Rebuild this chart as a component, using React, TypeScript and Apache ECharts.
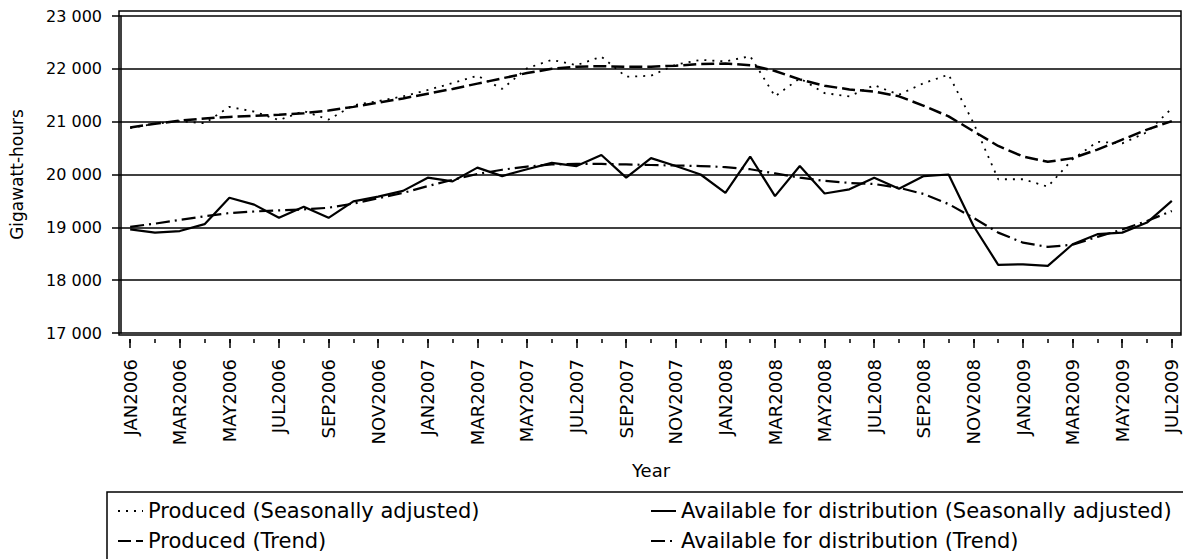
import React, { useEffect, useRef } from "react";
import * as echarts from "echarts";

const months: string[] = [
  "JAN2006","FEB2006","MAR2006","APR2006","MAY2006","JUN2006","JUL2006","AUG2006","SEP2006","OCT2006","NOV2006","DEC2006",
  "JAN2007","FEB2007","MAR2007","APR2007","MAY2007","JUN2007","JUL2007","AUG2007","SEP2007","OCT2007","NOV2007","DEC2007",
  "JAN2008","FEB2008","MAR2008","APR2008","MAY2008","JUN2008","JUL2008","AUG2008","SEP2008","OCT2008","NOV2008","DEC2008",
  "JAN2009","FEB2009","MAR2009","APR2009","MAY2009","JUN2009","JUL2009",
];

const producedSA: number[] = [
  20880, 20960, 21010, 20970, 21280, 21190, 21030, 21200, 21040, 21310, 21390, 21480,
  21600, 21730, 21870, 21620, 22010, 22170, 22070, 22230, 21850, 21870, 22080, 22170,
  22140, 22240, 21480, 21820, 21540, 21480, 21690, 21510, 21730, 21890, 20980, 19910,
  19910, 19770, 20290, 20620, 20590, 20800, 21250,
];

const producedTrend: number[] = [
  20890, 20960, 21020, 21060, 21090, 21110, 21130, 21160, 21210, 21280, 21360, 21440,
  21530, 21620, 21720, 21820, 21920, 22000, 22040, 22050, 22040, 22040, 22060, 22090,
  22100, 22070, 21960, 21800, 21680, 21610, 21570, 21480, 21300, 21100, 20820, 20540,
  20340, 20240, 20310, 20470, 20660, 20850, 21010,
];

const availableSA: number[] = [
  18960, 18900, 18930, 19060, 19560, 19430, 19180, 19390, 19180, 19490, 19580, 19690,
  19940, 19870, 20130, 19970, 20100, 20220, 20160, 20370, 19940, 20310, 20160, 20000,
  19650, 20340, 19590, 20160, 19640, 19720, 19940, 19730, 19970, 20000, 19030, 18290,
  18300, 18270, 18680, 18870, 18900, 19090, 19500,
];

const availableTrend: number[] = [
  19010, 19070, 19140, 19210, 19270, 19300, 19320, 19340, 19370, 19450, 19550, 19650,
  19780, 19900, 20010, 20090, 20150, 20190, 20200, 20200, 20190, 20180, 20170, 20160,
  20140, 20100, 20020, 19940, 19880, 19840, 19820, 19750, 19630, 19440, 19180, 18900,
  18710, 18630, 18670, 18820, 18960, 19120, 19310,
];

const seriesNames: string[] = [
  "Produced (Seasonally adjusted)",
  "Produced (Trend)",
  "Available for distribution (Seasonally adjusted)",
  "Available for distribution (Trend)",
];

const FONT = "DejaVu Sans";

function pairs(values: number[]): [number, number][] {
  return values.map((v, i) => [i, v]);
}

export default function App() {
  const ref = useRef<HTMLDivElement | null>(null);

  useEffect(() => {
    if (!ref.current) return;
    const chart = echarts.init(ref.current, undefined, { renderer: "svg" });
    const allIdx = months.map((_, i) => i);
    const evenIdx = allIdx.filter((i) => i % 2 === 0);
    const xMin = -0.37;
    const xMax = months.length - 1 + 0.37;

    const legendCommon = {
      top: 500,
      orient: "vertical",
      padding: 0,
      itemGap: 8,
      itemWidth: 25,
      itemHeight: 14,
      itemStyle: { color: "transparent", borderColor: "transparent", borderWidth: 0 },
      textStyle: { color: "#000", fontFamily: FONT, fontSize: 21, lineHeight: 22 },
    };

    chart.setOption({
      animation: false,
      backgroundColor: "#ffffff",
      grid: { left: 119, right: 2, top: 16, bottom: 226, containLabel: false },
      xAxis: [
        {
          type: "value",
          min: xMin,
          max: xMax,
          position: "bottom",
          offset: 6,
          axisLine: { show: false, onZero: false },
          splitLine: { show: false },
          axisTick: {
            show: true,
            customValues: evenIdx,
            length: 9,
            lineStyle: { color: "#000", width: 1.5 },
          },
          axisLabel: {
            show: true,
            customValues: evenIdx,
            rotate: 90,
            margin: 20,
            color: "#000",
            fontFamily: FONT,
            fontSize: 18,
            formatter: (v: number) => months[Math.round(v)] ?? "",
          },
          name: "Year",
          nameLocation: "middle",
          nameGap: 122,
          nameTextStyle: { color: "#000", fontFamily: FONT, fontSize: 18 },
        },
        {
          type: "value",
          min: xMin,
          max: xMax,
          position: "bottom",
          offset: 6,
          axisLine: { show: false, onZero: false },
          splitLine: { show: false },
          axisTick: {
            show: true,
            customValues: allIdx,
            length: 4,
            lineStyle: { color: "#000", width: 1.5 },
          },
          axisLabel: { show: false },
        },
      ],
      yAxis: {
        type: "value",
        min: 17000,
        max: 23000,
        interval: 1000,
        axisLine: { show: true, onZero: false, lineStyle: { color: "#000", width: 1.5 } },
        axisTick: { show: true, length: 9, lineStyle: { color: "#000", width: 1.5 } },
        splitLine: { show: true, lineStyle: { color: "#000", width: 1.5 } },
        axisLabel: {
          color: "#000",
          fontFamily: FONT,
          fontSize: 16,
          margin: 19,
          formatter: (v: number) =>
            `${Math.floor(v / 1000)} ${String(v % 1000).padStart(3, "0")}`,
        },
        name: "Gigawatt-hours",
        nameLocation: "middle",
        nameRotate: 90,
        nameGap: 96,
        nameTextStyle: { color: "#000", fontFamily: FONT, fontSize: 17 },
      },
      legend: [
        { ...legendCommon, left: 117, data: [seriesNames[0], seriesNames[1]] },
        { ...legendCommon, left: 650, data: [seriesNames[2], seriesNames[3]] },
      ],
      graphic: [
        {
          type: "rect",
          silent: true,
          z: 100,
          shape: { x: 119, y: 11, width: 1062, height: 324 },
          style: { fill: "none", stroke: "#000", lineWidth: 1.5 },
        },
        {
          type: "rect",
          silent: true,
          shape: { x: 107, y: 492, width: 1100, height: 100 },
          style: { fill: "none", stroke: "#000", lineWidth: 1.5 },
        },
      ],
      series: [
        {
          name: seriesNames[0],
          type: "line",
          symbol: "none",
          showSymbol: false,
          data: pairs(producedSA),
          lineStyle: { color: "#000", width: 1.8, type: [2, 6] },
          itemStyle: { color: "#000" },
        },
        {
          name: seriesNames[1],
          type: "line",
          symbol: "none",
          showSymbol: false,
          data: pairs(producedTrend),
          lineStyle: { color: "#000", width: 2.5, type: [13, 5] },
          itemStyle: { color: "#000" },
        },
        {
          name: seriesNames[2],
          type: "line",
          symbol: "none",
          showSymbol: false,
          data: pairs(availableSA),
          lineStyle: { color: "#000", width: 2.2, type: "solid" },
          itemStyle: { color: "#000" },
        },
        {
          name: seriesNames[3],
          type: "line",
          symbol: "none",
          showSymbol: false,
          data: pairs(availableTrend),
          lineStyle: { color: "#000", width: 2.2, type: [14, 5, 2, 5] },
          itemStyle: { color: "#000" },
        },
      ],
    });

    return () => {
      chart.dispose();
    };
  }, []);

  return (
    <div
      ref={ref}
      style={{
        position: "fixed",
        left: 0,
        top: 0,
        width: "1183px",
        height: "559px",
        background: "#fff",
      }}
    />
  );
}
